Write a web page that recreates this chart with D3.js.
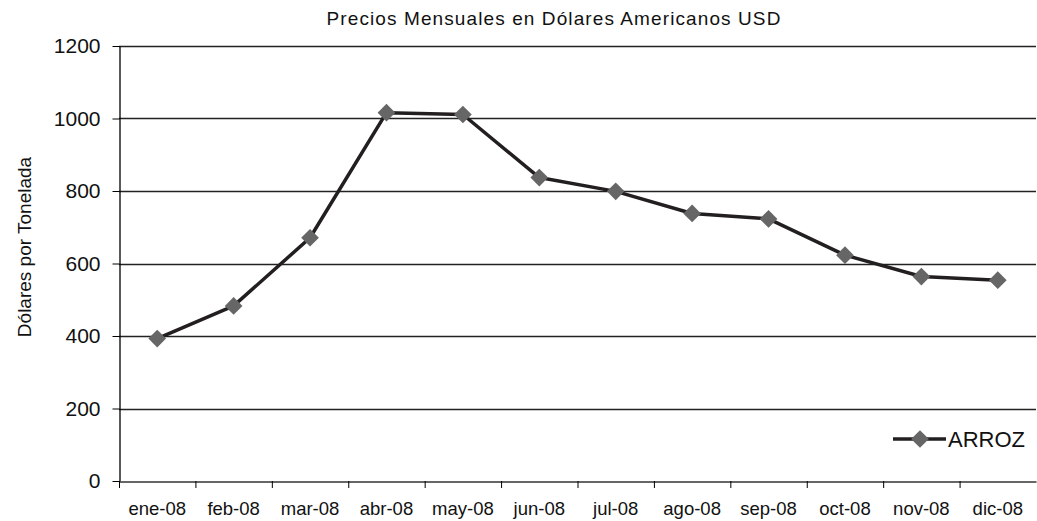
<!DOCTYPE html>
<html><head><meta charset="utf-8">
<script src="https://cdn.jsdelivr.net/npm/d3@7"></script>
<style>body{margin:0;background:#fff}svg{display:block;font-family:"Liberation Sans",Arial,sans-serif}</style>
</head><body>
<svg id="c" width="1037" height="521"></svg>
<script>
const categories = ["ene-08","feb-08","mar-08","abr-08","may-08","jun-08","jul-08","ago-08","sep-08","oct-08","nov-08","dic-08"];
const arroz = [393,483,671,1016,1011,837,799,738,723,623,564,554];
const yTicks = [0,200,400,600,800,1000,1200];
const seriesName = "ARROZ";
const title = "Precios Mensuales en Dólares Americanos USD";
const yTitle = "Dólares por Tonelada";

const svg = d3.select("#c");
const L = 119, R = 1036, T = 46, B = 481;
const x = d3.scaleBand().domain(categories).range([L, R]);
const y = d3.scaleLinear().domain([0,1200]).range([B, T]);

// gridlines
svg.append("g").selectAll("line").data(yTicks.filter(d=>d>0)).join("line")
  .attr("x1", L).attr("x2", R).attr("y1", d=>Math.round(y(d))+0.5).attr("y2", d=>Math.round(y(d))+0.5)
  .attr("stroke", "#222").attr("stroke-width", 1.4);

// y axis
const ya = svg.append("g").attr("transform", `translate(${L+0.5},0)`)
  .call(d3.axisLeft(y).tickValues(yTicks).tickFormat(d3.format("d")).tickSize(7).tickPadding(12).tickSizeOuter(0));
ya.select(".domain").attr("stroke", "#000").attr("stroke-width", 1.3);
ya.selectAll(".tick line").attr("stroke", "#000");
ya.selectAll("text").attr("font-size", 21).attr("fill", "#111").attr("font-family", "Liberation Sans, Arial, sans-serif");

// x axis
const xa = svg.append("g").attr("transform", `translate(0,${B+0.5})`)
  .call(d3.axisBottom(x).tickSize(0).tickPadding(20));
xa.select(".domain").attr("stroke", "#333").attr("stroke-width", 1.6);
xa.selectAll("text").attr("font-size", 18.5).attr("fill", "#111").attr("font-family", "Liberation Sans, Arial, sans-serif");
// category boundary ticks
svg.append("g").selectAll("line").data(d3.range(0, categories.length)).join("line")
  .attr("x1", i => L + 0.5 + x.step()*i).attr("x2", i => L + 0.5 + x.step()*i)
  .attr("y1", B).attr("y2", B+7).attr("stroke", "#000");

// line
const cx = d => x(d) + x.bandwidth()/2;
const line = d3.line().x((d,i)=>cx(categories[i])).y(d=>y(d));
svg.append("path").datum(arroz).attr("d", line)
  .attr("fill", "none").attr("stroke", "#231f20").attr("stroke-width", 3.5).attr("stroke-linejoin", "round");

const diamond = d3.symbol().type(d3.symbolDiamond2).size(200);
svg.append("g").selectAll("path").data(arroz).join("path")
  .attr("d", diamond)
  .attr("transform", (d,i)=>`translate(${cx(categories[i])},${y(d)})`)
  .attr("fill", "#666");

// title
svg.append("text").attr("x", 554).attr("y", 25).attr("text-anchor", "middle")
  .attr("font-size", 19).attr("fill", "#111").attr("letter-spacing", 1.1).text(title);

// y title
svg.append("text").attr("transform", "translate(31,247) rotate(-90)").attr("text-anchor", "middle")
  .attr("font-size", 19).attr("fill", "#111").text(yTitle);

// legend
const lg = svg.append("g");
lg.append("line").attr("x1", 893).attr("x2", 946).attr("y1", 439).attr("y2", 439)
  .attr("stroke", "#231f20").attr("stroke-width", 3.5);
lg.append("path").attr("d", diamond).attr("transform", "translate(920,439)").attr("fill", "#666");
lg.append("text").attr("x", 948).attr("y", 447).attr("font-size", 22).attr("fill", "#111").text(seriesName);
</script>
</body></html>
